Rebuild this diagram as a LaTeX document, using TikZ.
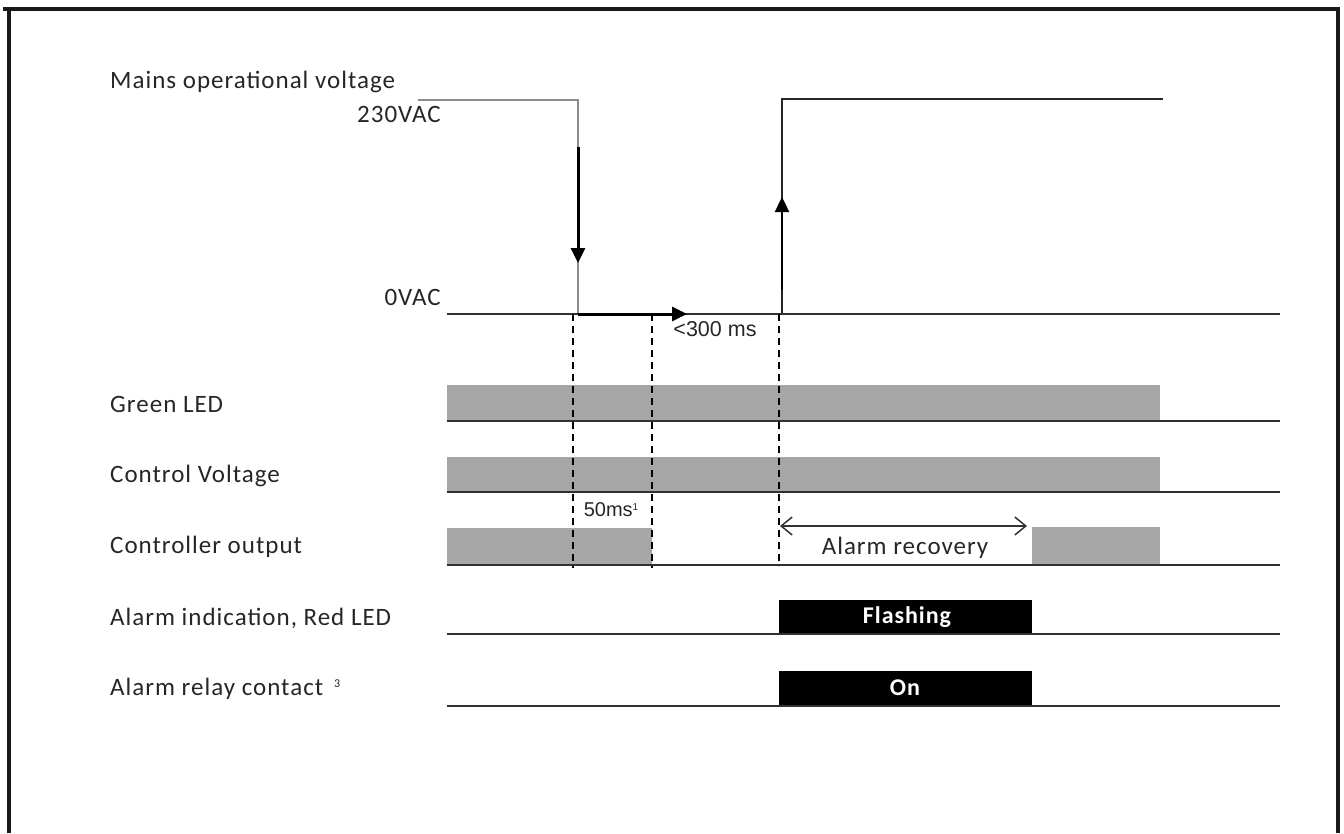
\documentclass[tikz,border=0pt]{standalone}
\usepackage{fontspec}
\setmainfont{Carlito}[LetterSpace=4]
\newfontfamily\arialf{Liberation Sans}
\usetikzlibrary{arrows.meta}
\definecolor{bargray}{HTML}{A6A6A6}
\definecolor{linegray}{HTML}{303030}
\definecolor{siggray}{HTML}{8C8C8C}
\tikzset{
  lbl/.style={anchor=west,inner sep=0pt,font=\fontsize{25}{28}\selectfont,text=black!85},
  vlbl/.style={anchor=east,inner sep=0pt,font=\fontsize{25}{28}\selectfont,text=black!85},
  baseln/.style={draw=linegray,line width=2pt},
  graybar/.style={fill=bargray,draw=none},
  blackbar/.style={fill=black,draw=none},
  bartext/.style={text=white,font=\bfseries\fontsize{24}{28}\selectfont,inner sep=0pt},
  dashln/.style={draw=black,line width=1.6pt,dash pattern=on 7pt off 5pt},
  sig/.style={draw=siggray,line width=2pt},
  sigdark/.style={draw=black!85,line width=2pt},
  bigarrow/.style={draw=black,line width=3pt,-{Triangle[width=14pt,length=15pt]}},
  frameln/.style={draw=black!90,line width=3.5pt}
}
\begin{document}
\begin{tikzpicture}[x=1pt,y=-1pt]
\useasboundingbox (0,0) rectangle (1344,833);
% frame
\draw[frameln] (3,9) -- (1340,9);
\draw[frameln] (9,9) -- (9,833);
\draw[frameln] (1338,9) -- (1338,833);

% labels
\node[lbl] (lmains) at (110,82) {Mains operational voltage};
\node[vlbl] (l230) at (441,114) {230VAC};
\node[vlbl] (l0) at (441,297) {0VAC};
\node[lbl] (lgreen) at (110,404) {Green LED};
\node[lbl] (lcv) at (110,476) {Control Voltage};
\node[lbl] (lco) at (110,547) {Controller output};
\node[lbl] (lred) at (110,618) {Alarm indication, Red LED};
\node[lbl] (lrelay) at (110,689) {Alarm relay contact \,\raisebox{0.7ex}{\fontsize{12}{13}\selectfont 3}};

% mains waveform
\coordinate (m0) at (418,100);
\coordinate (m1) at (578,100);
\coordinate (m2) at (578,314);
\coordinate (m3) at (782,314);
\coordinate (m4) at (782,99);
\coordinate (m5) at (1163,99);
\draw[sig] (m0) -- (m1) -- (m2);
\draw[sigdark] (m2) -- (m3) -- (m4) -- (m5);
% 0VAC baseline
\draw[baseln] (447,314) -- (1280,314);

% arrows on waveform
\coordinate (da0) at (578,147);
\coordinate (da1) at (578,263);
\draw[bigarrow] (da0) -- (da1);
\coordinate (ha0) at (578,314);
\coordinate (ha1) at (687,314);
\draw[bigarrow] (ha0) -- (ha1);
\coordinate (ua0) at (782,290);
\coordinate (ua1) at (782,197);
\draw[draw=black,line width=2.4pt,-{Triangle[width=14pt,length=15pt]}] (ua0) -- (ua1);
\node[inner sep=0pt,font=\arialf\fontsize{21.5}{24}\selectfont,text=black!85] (t300) at (715,329) {<300 ms};

% Green LED
\fill[graybar] (447,385) rectangle (1160,420);
\draw[baseln] (447,421) -- (1280,421);
% Control voltage
\fill[graybar] (447,457) rectangle (1160,491);
\draw[baseln] (447,492) -- (1280,492);
% Controller output
\fill[graybar] (447,528) rectangle (652,565);
\fill[graybar] (1032,527) rectangle (1160,565);
\draw[baseln] (447,565) -- (1280,565);
\node[inner sep=0pt,font=\arialf\fontsize{20}{22}\selectfont,text=black!85] (t50) at (611,510) {50ms\raisebox{0.6ex}{\fontsize{10}{11}\selectfont 1}};

% dashed lines
\coordinate (d1t) at (573,314);
\coordinate (d1b) at (573,568);
\coordinate (d2t) at (652,314);
\coordinate (d2b) at (652,568);
\coordinate (d3t) at (779,314);
\coordinate (d3b) at (779,566);
\draw[dashln] (d1t) -- (d1b);
\draw[dashln] (d2t) -- (d2b);
\draw[dashln] (d3t) -- (d3b);

% alarm recovery
\coordinate (ar0) at (780,526);
\coordinate (ar1) at (1027,526);
\draw[draw=black!80,line width=1.5pt,{Straight Barb[length=11pt,width=18pt]}-{Straight Barb[length=11pt,width=18pt]}] (ar0) -- (ar1);
\node[inner sep=0pt,font=\fontsize{25}{28}\selectfont,text=black!85] (tar) at (905,548) {Alarm recovery};

% Red LED
\fill[blackbar] (779,600) rectangle (1032,634);
\node[bartext] (tflash) at (907,617) {Flashing};
\draw[baseln] (447,634) -- (1280,634);
% Relay
\fill[blackbar] (779,671) rectangle (1032,706);
\node[bartext] (ton) at (905,688) {On};
\draw[baseln] (447,706) -- (1280,706);
\end{tikzpicture}
\end{document}
